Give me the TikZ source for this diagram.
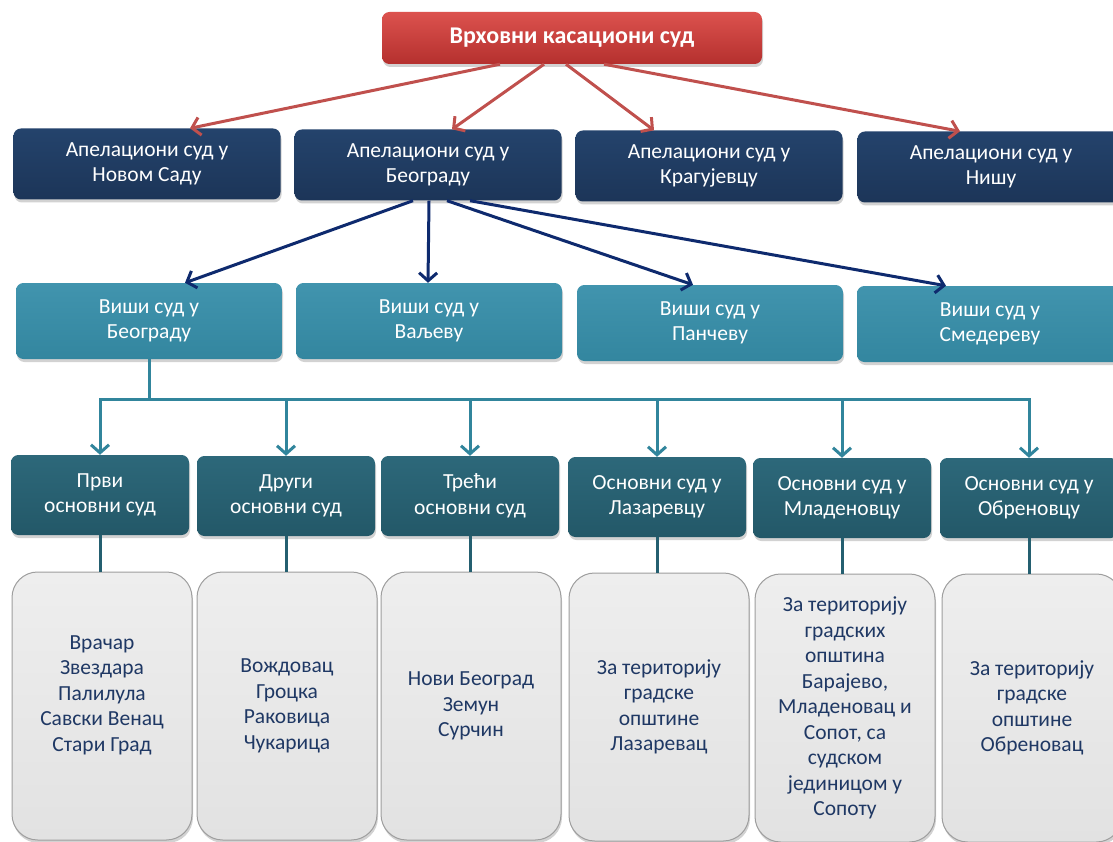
\documentclass[tikz,border=0pt]{standalone}
\usepackage{fontspec}
\setmainfont{Carlito}
\usetikzlibrary{arrows.meta,shadows}

\definecolor{SupremeTop}{HTML}{DC524E}
\definecolor{SupremeBottom}{HTML}{B5302E}
\definecolor{AppealTop}{HTML}{24436C}
\definecolor{AppealBottom}{HTML}{1C3558}
\definecolor{HigherTop}{HTML}{4194AE}
\definecolor{HigherBottom}{HTML}{33869F}
\definecolor{BasicTop}{HTML}{2D687A}
\definecolor{BasicBottom}{HTML}{235868}
\definecolor{AreaTop}{HTML}{EEEEEE}
\definecolor{AreaBottom}{HTML}{E2E2E2}
\definecolor{AreaText}{HTML}{1F3864}
\definecolor{RedLine}{HTML}{C0504D}
\definecolor{NavyLine}{HTML}{0E2A6E}
\definecolor{TealLine}{HTML}{31859C}
\definecolor{DarkTealLine}{HTML}{245F70}

\tikzset
{
  CourtNodeStyle/.style =
  {
    shape = rectangle,
    rounded corners = 2.6mm,
    align = center,
    text = white,
    font = \fontsize{21.5}{25.5}\selectfont,
    drop shadow = {opacity = 0.35, shadow xshift = 1pt, shadow yshift = -3pt},
  },
  SupremeNodeStyle/.style =
  {
    CourtNodeStyle,
    top color = SupremeTop,
    bottom color = SupremeBottom,
    minimum width = 380pt,
    minimum height = 52pt,
    font = \fontsize{24}{28}\selectfont\bfseries,
  },
  AppealNodeStyle/.style =
  {
    CourtNodeStyle,
    top color = AppealTop,
    bottom color = AppealBottom,
    minimum width = 267pt,
    minimum height = 71pt,
  },
  HigherNodeStyle/.style =
  {
    CourtNodeStyle,
    top color = HigherTop,
    bottom color = HigherBottom,
    minimum width = 266pt,
    minimum height = 76pt,
  },
  BasicNodeStyle/.style =
  {
    CourtNodeStyle,
    top color = BasicTop,
    bottom color = BasicBottom,
    minimum width = 178pt,
    minimum height = 80pt,
  },
  AreaNodeStyle/.style =
  {
    CourtNodeStyle,
    rounded corners = 9mm,
    top color = AreaTop,
    bottom color = AreaBottom,
    draw = white!62!black,
    line width = 1pt,
    text = AreaText,
    minimum width = 180pt,
    minimum height = 268pt,
  },
  AreaTextStyle/.style =
  {
    align = center,
    text = AreaText,
    font = \fontsize{21.5}{25.5}\selectfont,
  },
  RedArrowStyle/.style =
  {
    draw = RedLine,
    line width = 3pt,
    -{Straight Barb[length=8pt,width=18pt]},
  },
  NavyArrowStyle/.style =
  {
    draw = NavyLine,
    line width = 3pt,
    -{Straight Barb[length=8pt,width=18pt]},
  },
  TealArrowStyle/.style =
  {
    draw = TealLine,
    line width = 3pt,
    -{Straight Barb[length=8pt,width=18pt]},
  },
  DarkTealLineStyle/.style =
  {
    draw = DarkTealLine,
    line width = 3pt,
  }
}

\begin{document}
\begin{tikzpicture}[x=1pt, y=-1pt]
  \fill[white] (0,0) rectangle (1113,842);
  \useasboundingbox (0,0) rectangle (1113,842);

  % top
  \node[SupremeNodeStyle] (vks) at (572,38) {Врховни касациони суд};

  % appellate courts
  \node[AppealNodeStyle] (ans) at (147,164) {Апелациони суд у\\Новом Саду};
  \node[AppealNodeStyle] (abg) at (428,165) {Апелациони суд у\\Београду};
  \node[AppealNodeStyle] (akg) at (709,166) {Апелациони суд у\\Крагујевцу};
  \node[AppealNodeStyle] (ani) at (991,167) {Апелациони суд у\\Нишу};

  % higher courts
  \node[HigherNodeStyle] (vbg) at (149,321) {Виши суд у\\Београду};
  \node[HigherNodeStyle] (vva) at (429,321) {Виши суд у\\Ваљеву};
  \node[HigherNodeStyle] (vpa) at (710,323) {Виши суд у\\Панчеву};
  \node[HigherNodeStyle] (vsm) at (990,324) {Виши суд у\\Смедереву};

  % basic courts
  \node[BasicNodeStyle] (os1) at (100,495) {Први\\основни суд};
  \node[BasicNodeStyle] (os2) at (286,496) {Други\\основни суд};
  \node[BasicNodeStyle] (os3) at (470,496) {Трећи\\основни суд};
  \node[BasicNodeStyle] (os4) at (657,497) {Основни суд у\\Лазаревцу};
  \node[BasicNodeStyle] (os5) at (842,498) {Основни суд у\\Младеновцу};
  \node[BasicNodeStyle] (os6) at (1029,498) {Основни суд у\\Обреновцу};

  % territories
  \node[AreaNodeStyle] (tr1) at (102,706) {};
  \node[AreaTextStyle] (tx1) at (102,695)
    {Врачар\\Звездара\\Палилула\\Савски Венац\\Стари Град};
  \node[AreaNodeStyle] (tr2) at (287,706)
    {Вождовац\\Гроцка\\Раковица\\Чукарица};
  \node[AreaNodeStyle] (tr3) at (471,706)
    {Нови Београд\\Земун\\Сурчин};
  \node[AreaNodeStyle] (tr4) at (659,707)
    {За територију\\градске\\општине\\Лазаревац};
  \node[AreaNodeStyle] (tr5) at (845,708)
    {За територију\\градских\\општина\\Барајево,\\Младеновац и\\Сопот, са\\судском\\јединицом у\\Сопоту};
  \node[AreaNodeStyle] (tr6) at (1032,708)
    {За територију\\градске\\општине\\Обреновац};

  % connectors
  \draw[RedArrowStyle] ([xshift=-72]vks.south) -- ([xshift=43]ans.north);
  \draw[RedArrowStyle] ([xshift=-28]vks.south) -- ([xshift=24]abg.north);
  \draw[RedArrowStyle] ([xshift=-6]vks.south) -- ([xshift=-55]akg.north);
  \draw[RedArrowStyle] ([xshift=32]vks.south) -- ([xshift=-31]ani.north);

  \draw[NavyArrowStyle] ([xshift=-15]abg.south) -- ([xshift=36]vbg.north);
  \draw[NavyArrowStyle] ([xshift=1]abg.south) -- ([xshift=-1]vva.north);
  \draw[NavyArrowStyle] ([xshift=19]abg.south) -- ([xshift=-17]vpa.north);
  \draw[NavyArrowStyle] ([xshift=42]abg.south) -- ([xshift=-44]vsm.north);

  \foreach \i in {1,...,6}
  {
    \draw[TealArrowStyle] (vbg.south) -- ++(0,40) -| (os\i.north);
    \draw[DarkTealLineStyle] (os\i.south) -- (os\i.south |- tr\i.north);
  }
\end{tikzpicture}
\end{document}
